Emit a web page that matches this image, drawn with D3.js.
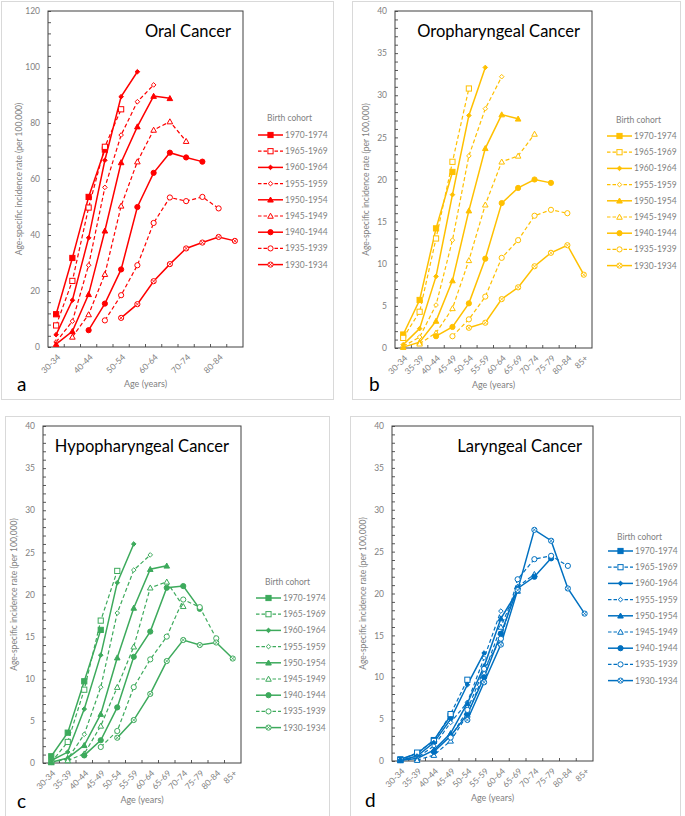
<!DOCTYPE html>
<html><head><meta charset="utf-8">
<script src="https://cdn.jsdelivr.net/npm/d3@7"></script>
<style>body{margin:0;background:#fff;} text{font-family:Lato,'Liberation Sans',sans-serif;}</style>
</head><body><svg id="c" width="685" height="816"></svg>
<script>
// ---------- DATA ----------
const ages = ["30-34","35-39","40-44","45-49","50-54","55-59","60-64","65-69","70-74","75-79","80-84","85+"];
const cohorts = ["1970-1974","1965-1969","1960-1964","1955-1959","1950-1954","1945-1949","1940-1944","1935-1939","1930-1934"];
const _ = null;
const oralRates = [
  [11.7,31.8,53.6,70.5,_,_,_,_,_,_,_,_],
  [7.7,23.6,49.8,71.5,84.9,_,_,_,_,_,_,_],
  [4.4,16.7,39.0,66.7,89.4,98.3,_,_,_,_,_,_],
  [1.8,9.2,29.2,57.0,75.7,87.6,93.6,_,_,_,_,_],
  [1.0,5.6,18.8,41.5,65.9,78.7,89.6,88.8,_,_,_,_],
  [_,3.6,11.6,26.0,50.4,66.2,77.5,80.5,73.5,_,_,_],
  [_,_,6.0,15.5,27.7,50.0,62.2,69.4,67.7,66.2,_,_],
  [_,_,_,9.5,18.5,29.2,44.3,53.4,52.1,53.6,49.5,_],
  [_,_,_,_,10.4,15.3,23.5,29.6,35.2,37.3,39.3,37.9]
];
const oroRates = [
  [1.6,5.7,14.2,20.9,_,_,_,_,_,_,_,_],
  [1.2,4.3,13.0,22.1,30.8,_,_,_,_,_,_,_],
  [0.4,2.3,8.5,18.2,27.6,33.3,_,_,_,_,_,_],
  [0.2,1.3,5.1,12.8,22.8,28.4,32.2,_,_,_,_,_],
  [0.1,0.7,3.2,8.0,16.3,23.7,27.7,27.2,_,_,_,_],
  [_,0.5,1.8,4.7,10.4,17.0,22.1,22.8,25.4,_,_,_],
  [_,_,1.4,2.5,5.3,10.6,17.2,19.0,20.0,19.6,_,_],
  [_,_,_,1.4,3.4,6.1,10.7,12.8,15.7,16.4,16.0,_],
  [_,_,_,_,2.4,3.0,5.8,7.2,9.7,11.3,12.2,8.7]
];
const hypoRates = [
  [0.8,3.6,9.7,15.8,_,_,_,_,_,_,_,_],
  [0.1,2.5,8.7,16.9,22.8,_,_,_,_,_,_,_],
  [0.3,1.3,6.4,12.8,21.4,26.0,_,_,_,_,_,_],
  [0.1,0.5,3.4,9.0,17.8,22.9,24.7,_,_,_,_,_],
  [0.1,0.6,2.1,5.8,12.5,18.4,23.0,23.4,_,_,_,_],
  [_,0.3,1.1,4.4,9.0,13.8,20.8,21.5,18.6,_,_,_],
  [_,_,0.9,2.7,6.6,12.6,15.6,20.8,21.0,18.3,_,_],
  [_,_,_,1.9,3.8,9.0,12.3,15.0,19.4,18.5,14.8,_],
  [_,_,_,_,3.0,5.1,8.2,12.1,14.6,14.0,14.3,12.4]
];
const laryRates = [
  [0.2,0.9,2.5,5.4,_,_,_,_,_,_,_,_],
  [0.1,1.0,2.4,5.6,9.7,_,_,_,_,_,_,_],
  [0.1,0.6,2.2,5.0,9.1,12.9,_,_,_,_,_,_],
  [0.1,0.4,1.8,4.6,7.0,12.3,17.9,_,_,_,_,_],
  [0.1,0.3,1.3,3.3,6.9,11.3,17.0,20.3,_,_,_,_],
  [_,0.1,0.7,2.4,5.5,10.5,16.0,20.8,22.3,_,_,_],
  [_,_,1.1,3.0,5.6,10.0,15.2,20.6,22.0,24.2,_,_],
  [_,_,_,2.8,6.1,11.0,14.6,21.7,24.1,24.5,23.3,_],
  [_,_,_,_,4.9,9.4,13.9,20.4,27.6,26.3,20.6,17.6]
];
const oralTicks = [0,20,40,60,80,100,120];
const otherTicks = [0,5,10,15,20,25,30,35,40];

// ---------- STYLE CONFIG ----------
const dashed = [false,true,false,true,false,true,false,true,false];
const markers = ["sqF","sqO","diaF","diaO","triF","triO","cirF","cirO","cirX"];

const panels = [
  {title:"Oral Cancer", letter:"a", color:"#FF0000", data:oralRates, ticks:oralTicks, minor:4,
   frame:[1,1,332,398], plot:[48,11,243,347], titleRight:231, titleY:37, every:2,
   legX:258, legTitleY:121, legY0:135, letterX:17, letterY:391},
  {title:"Oropharyngeal Cancer", letter:"b", color:"#FFC000", data:oroRates, ticks:otherTicks, minor:1,
   frame:[352,1,328,398], plot:[395,11,592,348], titleRight:580, titleY:37, every:1,
   legX:607, legTitleY:123, legY0:136, letterX:369, letterY:391},
  {title:"Hypopharyngeal Cancer", letter:"c", color:"#3DAA5C", data:hypoRates, ticks:otherTicks, minor:1,
   frame:[5,416,324,420], plot:[43,426,241,763], titleRight:229, titleY:452, every:1,
   legX:256, legTitleY:585, legY0:598, letterX:17, letterY:808},
  {title:"Laryngeal Cancer", letter:"d", color:"#0070C0", data:laryRates, ticks:otherTicks, minor:1,
   frame:[350,416,330,420], plot:[392,426,593,761], titleRight:582, titleY:452, every:1,
   legX:608, legTitleY:540, legY0:551, letterX:365, letterY:807}
];

const svg = d3.select("#c");
const gray = "#7f7f7f";

function drawMarker(g, type, x, y, color) {
  const s = 2.6;
  if (type.startsWith("sq")) {
    g.append("rect").attr("x", x - s).attr("y", y - s).attr("width", 2*s).attr("height", 2*s)
      .attr("fill", type === "sqF" ? color : "#fff").attr("stroke", color).attr("stroke-width", 1);
  } else if (type.startsWith("dia")) {
    const d = 2.3;
    g.append("path").attr("d", `M${x},${y-d}L${x+d},${y}L${x},${y+d}L${x-d},${y}Z`)
      .attr("fill", type === "diaF" ? color : "#fff").attr("stroke", color).attr("stroke-width", 1);
  } else if (type.startsWith("tri")) {
    const t = 2.8;
    g.append("path").attr("d", `M${x},${y-t}L${x+t},${y+t*0.8}L${x-t},${y+t*0.8}Z`)
      .attr("fill", type === "triF" ? color : "#fff").attr("stroke", color).attr("stroke-width", 1);
  } else {
    const r = 2.6;
    g.append("circle").attr("cx", x).attr("cy", y).attr("r", r)
      .attr("fill", type === "cirF" ? color : "#fff").attr("stroke", color).attr("stroke-width", 1);
    if (type === "cirX") {
      const k = r * 0.7;
      g.append("path").attr("d", `M${x-k},${y-k}L${x+k},${y+k}M${x-k},${y+k}L${x+k},${y-k}`)
        .attr("stroke", color).attr("stroke-width", 0.8);
    }
  }
}

panels.forEach(p => {
  const g = svg.append("g");
  const [fx, fy, fw, fh] = p.frame;
  g.append("rect").attr("x", fx + 0.5).attr("y", fy + 0.5).attr("width", fw).attr("height", fh)
    .attr("fill", "#fff").attr("stroke", "#d9d9d9").attr("stroke-width", 1);

  const [L, T, R, B] = p.plot;
  const x = d3.scaleBand().domain(ages).range([L, R]);
  const ymax = p.ticks[p.ticks.length - 1];
  const y = d3.scaleLinear().domain([0, ymax]).range([B, T]);

  // minor y ticks (inward)
  const minorVals = d3.range(0, ymax + 0.001, p.minor);
  g.append("g").attr("transform", `translate(${L},0)`)
    .call(d3.axisLeft(y).tickValues(minorVals).tickSize(-3).tickFormat(""))
    .call(a => { a.select(".domain").remove(); a.selectAll("line").attr("stroke", "#595959"); });
  // major y axis labels
  g.append("g").attr("transform", `translate(${L},0)`)
    .call(d3.axisLeft(y).tickValues(p.ticks).tickSize(0).tickPadding(8))
    .call(a => { a.select(".domain").remove();
      a.selectAll("text").attr("fill", gray).style("font-size", "8.5px").style("font-family", "Lato"); });

  // x boundary ticks (inward)
  const bounds = ages.map(a => x(a)).slice(1);
  g.append("g").selectAll("line").data(bounds).join("line")
    .attr("x1", d => d).attr("x2", d => d).attr("y1", B).attr("y2", B - 3)
    .attr("stroke", "#595959").attr("stroke-width", 1);

  // x labels
  g.append("g").attr("transform", `translate(0,${B})`)
    .call(d3.axisBottom(x).tickSize(0).tickFormat((d, i) => i % p.every === 0 ? d : ""))
    .call(a => { a.select(".domain").remove();
      a.selectAll("text").attr("fill", gray).style("font-size", "8.5px").style("font-family", "Lato")
        .attr("text-anchor", "end").attr("dy", "0.3em").attr("y", 0)
        .attr("transform", "translate(3,9) rotate(-45)"); });

  // plot border
  g.append("rect").attr("x", L).attr("y", T).attr("width", R - L).attr("height", B - T)
    .attr("fill", "none").attr("stroke", "#404040").attr("stroke-width", 1);

  // axis titles
  g.append("text").attr("transform", `translate(${L - 26},${(T + B) / 2}) rotate(-90)`)
    .attr("text-anchor", "middle").attr("fill", gray).style("font-size", "8.5px")
    .text("Age-specific  incidence rate (per 100,000)");
  g.append("text").attr("x", (L + R) / 2).attr("y", B + 40).attr("text-anchor", "middle")
    .attr("fill", gray).style("font-size", "9px").text("Age (years)");

  // title
  g.append("text").attr("x", p.titleRight).attr("y", p.titleY).attr("text-anchor", "end")
    .attr("fill", "#000").style("font-size", "16.5px").text(p.title);
  // letter
  g.append("text").attr("x", p.letterX).attr("y", p.letterY).attr("fill", "#000")
    .style("font-size", "19px").text(p.letter);

  // lines
  const line = d3.line().defined(d => d.v !== null)
    .x(d => x(d.a) + x.bandwidth() / 2).y(d => y(d.v));
  p.data.forEach((vals, ci) => {
    const pts = vals.map((v, i) => ({a: ages[i], v}));
    g.append("path").datum(pts).attr("d", line).attr("fill", "none")
      .attr("stroke", p.color).attr("stroke-width", dashed[ci] ? 1.2 : 1.5)
      .attr("stroke-dasharray", dashed[ci] ? "4,2.5" : null);
  });
  p.data.forEach((vals, ci) => {
    vals.forEach((v, i) => {
      if (v === null) return;
      drawMarker(g, markers[ci], x(ages[i]) + x.bandwidth() / 2, y(v), p.color);
    });
  });

  // legend
  const lg = g.append("g");
  lg.append("text").attr("x", p.legX + 9).attr("y", p.legTitleY).attr("fill", gray)
    .style("font-size", "8.5px").text("Birth cohort");
  cohorts.forEach((c, ci) => {
    const yy = p.legY0 + ci * 16.2;
    lg.append("line").attr("x1", p.legX).attr("x2", p.legX + 25).attr("y1", yy).attr("y2", yy)
      .attr("stroke", p.color).attr("stroke-width", dashed[ci] ? 1.2 : 1.5)
      .attr("stroke-dasharray", dashed[ci] ? "3.5,2" : null);
    drawMarker(lg, markers[ci], p.legX + 12.5, yy, p.color);
    lg.append("text").attr("x", p.legX + 27).attr("y", yy + 3).attr("fill", gray)
      .style("font-size", "8.5px").text(c);
  });
});
</script>
</body></html>
